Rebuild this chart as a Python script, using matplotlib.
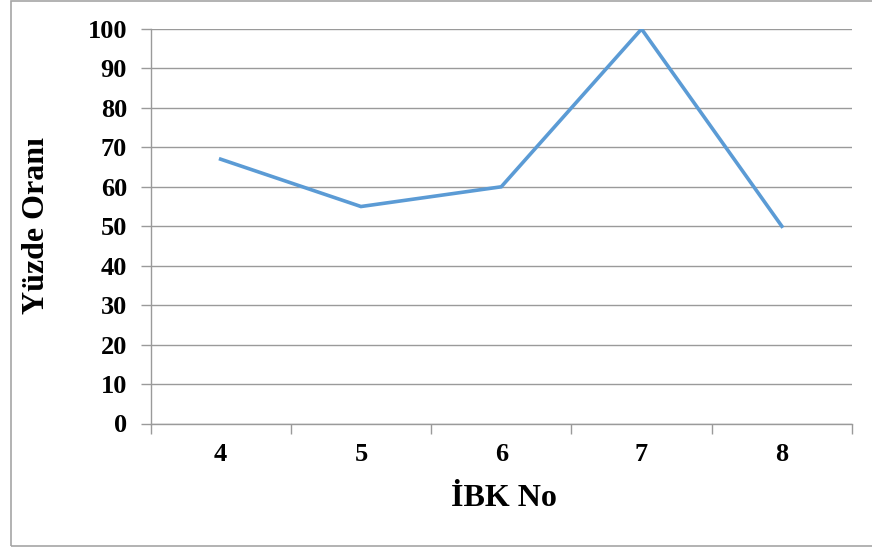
import matplotlib.pyplot as plt
from matplotlib.patches import Rectangle

plt.rcParams['font.family'] = ['Liberation Serif', 'DejaVu Serif']
plt.rcParams['font.weight'] = 'bold'

ibk_no = ['4', '5', '6', '7', '8']
yuzde = [67, 55, 60, 100, 50]
y_ticks = [0, 10, 20, 30, 40, 50, 60, 70, 80, 90, 100]

W, H = 872, 549
fig = plt.figure(figsize=(W / 100, H / 100), dpi=100)
ax = fig.add_axes([150.5 / W, 1 - 423.5 / H, (852 - 150.5) / W, (423.5 - 29) / H])

grid_col = '#9a9a9a'
x = range(len(ibk_no))
ax.plot(x, yuzde, color='#5b9bd5', lw=2.6, solid_joinstyle='miter', zorder=3)

ax.set_xlim(-0.5, len(ibk_no) - 0.5)
ax.set_ylim(0, 100)
ax.set_yticks(y_ticks)
ax.set_yticklabels([str(v) for v in y_ticks], fontsize=19, fontweight='bold')

# category labels sit in the middle, tick marks on the boundaries
ax.set_xticks([i - 0.5 for i in range(len(ibk_no) + 1)])
ax.set_xticklabels([''] * (len(ibk_no) + 1))
ax.set_xticks(list(x), minor=True)
ax.set_xticklabels(ibk_no, minor=True, fontsize=19, fontweight='bold')
ax.tick_params(axis='x', which='major', length=7, width=1, color=grid_col, direction='out')
ax.tick_params(axis='x', which='minor', length=0, pad=14)
ax.tick_params(axis='y', length=7, width=1, color=grid_col, direction='out', pad=10)

ax.grid(axis='y', color=grid_col, lw=1.0)
ax.set_axisbelow(True)
for side in ['top', 'right']:
    ax.spines[side].set_visible(False)
for side in ['left', 'bottom']:
    ax.spines[side].set_color(grid_col)
    ax.spines[side].set_linewidth(1.0)

fig.text(504 / W, 1 - 498 / H, 'İBK No', fontsize=23, fontweight='bold',
         ha='center', va='center')
fig.text(37 / W, 1 - 226 / H, 'Yüzde Oranı', fontsize=23, fontweight='bold',
         ha='center', va='center', rotation=90)

# outer chart frame (right edge runs past the canvas)
fig.patches.append(Rectangle((10.5 / W, 1 - 545.5 / H), 880 / W, 545 / H,
                             transform=fig.transFigure, fill=False,
                             edgecolor='#a6a6a6', lw=1.2))

fig.savefig('out.png', dpi=100)
